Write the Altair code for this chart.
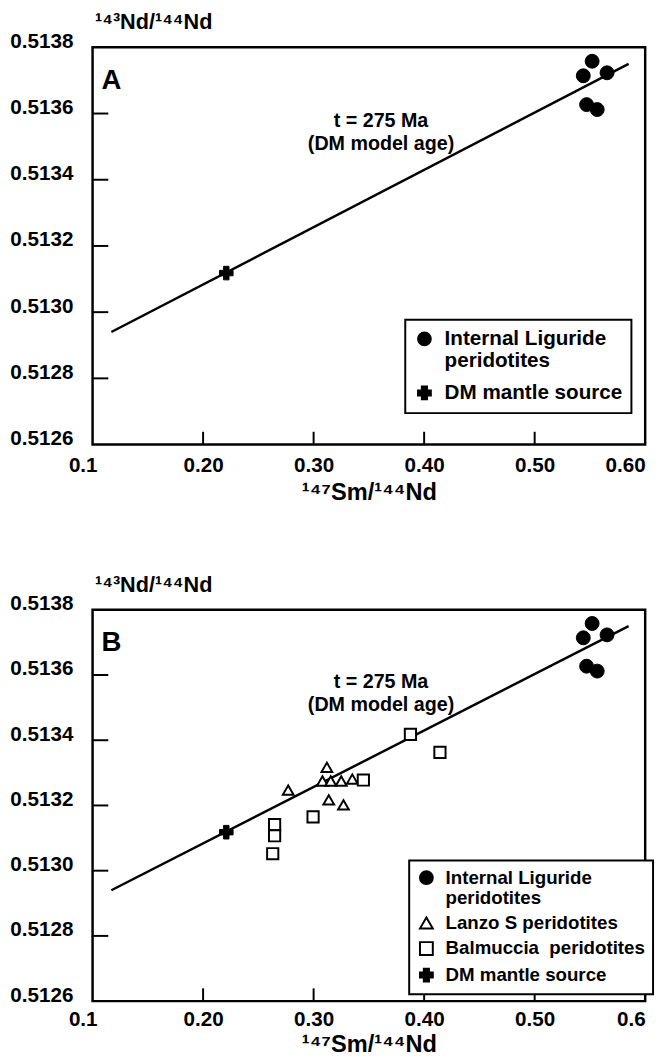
import altair as alt
import pandas as pd

FONT = "Liberation Sans"

# ---------------- data ----------------
lig_x = [0.552, 0.544, 0.5655, 0.547, 0.5566]
lig_y = [0.513758, 0.513714, 0.513723, 0.513627, 0.513612]

dm_x = [0.221]
dm_y = [0.513118]

lanzo_x = [0.277, 0.312, 0.308, 0.3155, 0.325, 0.335, 0.3137, 0.327]
lanzo_y = [0.513247, 0.513317, 0.513275, 0.513275, 0.513275, 0.513281, 0.513217, 0.513202]

balm_x = [0.345, 0.2995, 0.2647, 0.2647, 0.263, 0.3876, 0.4143]
balm_y = [0.513278, 0.513165, 0.513141, 0.513107, 0.513052, 0.513418, 0.513363]

iso_x = [0.117, 0.585]
iso_y = [0.51294, 0.51375]

note_x = [0.361, 0.361]
note_y = [0.513578, 0.513508]
note_text = ["t = 275 Ma", "(DM model age)"]

x_label_values = [0.1, 0.2, 0.3, 0.4, 0.5, 0.6]
y_label_values = [0.5126, 0.5128, 0.5130, 0.5132, 0.5134, 0.5136, 0.5138]
x_tick_values = [0.2, 0.3, 0.4, 0.5]
y_tick_values = [0.5128, 0.5130, 0.5132, 0.5134, 0.5136]

G_LIG = "Internal Liguride peridotites"
G_LANZO = "Lanzo S peridotites"
G_BALM = "Balmuccia\u00a0 peridotites"
G_DM = "DM mantle source"

groups_A = [G_LIG, G_DM]
groups_B = [G_LIG, G_LANZO, G_BALM, G_DM]

shape_of = {G_LIG: "circle", G_LANZO: "triangle-up", G_BALM: "square", G_DM: "cross"}
fill_of = {G_LIG: "black", G_LANZO: "white", G_BALM: "white", G_DM: "black"}
size_of = {G_LIG: 200, G_LANZO: 120, G_BALM: 130, G_DM: 190}
data_of = {
    G_LIG: (lig_x, lig_y),
    G_LANZO: (lanzo_x, lanzo_y),
    G_BALM: (balm_x, balm_y),
    G_DM: (dm_x, dm_y),
}

W = 562


def panel(letter, groups, last_label, legend_x, legend_y, leg_font, leg_row_pad, leg_pad,
          height, x_label_pad, x_title_pad):
    xscale = alt.Scale(domain=[0.1, 0.6], nice=False, zero=False)
    yscale = alt.Scale(domain=[0.5126, 0.5138], nice=False, zero=False)
    xaxis = alt.Axis(
        values=x_label_values,
        labelExpr="datum.value < 0.15 ? '0.1' : (datum.value > 0.55 ? '%s' : format(datum.value, '.2f'))" % last_label,
        labelFlush=False,
        labelOverlap=False,
        labelFontSize=21,
        labelPadding=x_label_pad,
        labelAlign={"condition": {"test": "datum.value > 0.55", "value": "right"}, "value": "center"},
        labelOffset={"condition": {"test": "datum.value < 0.15", "value": -10}, "value": 0},
        title="¹⁴⁷Sm/¹⁴⁴Nd",
        titleFontSize=24,
        titlePadding=x_title_pad,
    )
    yaxis = alt.Axis(
        values=y_label_values,
        format=".4f",
        labelFontSize=21,
        labelPadding=20,
        labelOffset=-6,
        labelOverlap=False,
        labelFlush=False,
        title="¹⁴³Nd/¹⁴⁴Nd",
        titleAngle=0,
        titleAlign="left",
        titleBaseline="bottom",
        titleX=2,
        titleY=-14,
        titleFontSize=22,
    )
    X = alt.X("x:Q", scale=xscale, axis=xaxis)
    Y = alt.Y("y:Q", scale=yscale, axis=yaxis)

    leg = alt.Legend(
        title=None,
        orient="none",
        legendX=legend_x,
        legendY=legend_y,
        direction="vertical",
        labelFontSize=leg_font,
        rowPadding=leg_row_pad,
        padding=leg_pad,
        symbolStrokeWidth=2,
        labelExpr="datum.label == '%s' ? ['Internal Liguride', 'peridotites'] : datum.label" % G_LIG,
    )
    shape_enc = alt.Shape("group:N", scale=alt.Scale(domain=groups, range=[shape_of[g] for g in groups]), legend=leg)
    fill_enc = alt.Fill("group:N", scale=alt.Scale(domain=groups, range=[fill_of[g] for g in groups]), legend=leg)
    stroke_enc = alt.Stroke("group:N", scale=alt.Scale(domain=groups, range=["black"] * len(groups)), legend=leg)

    line = alt.Chart(pd.DataFrame({"x": iso_x, "y": iso_y})).mark_line(
        color="black", strokeWidth=2.5
    ).encode(x=X, y=Y)

    xticks = alt.Chart(pd.DataFrame({"x": x_tick_values})).mark_rule(
        color="black", strokeWidth=2
    ).encode(x=X, y=alt.value(height), y2=alt.value(height - 13))
    yticks = alt.Chart(pd.DataFrame({"y": y_tick_values})).mark_rule(
        color="black", strokeWidth=2
    ).encode(y=Y, x=alt.value(0), x2=alt.value(16))

    notes = alt.Chart(pd.DataFrame({"x": note_x, "y": note_y, "t": note_text})).mark_text(
        font=FONT, fontSize=20, fontWeight="bold", color="black"
    ).encode(x=X, y=Y, text="t:N")

    lett = alt.Chart(pd.DataFrame({"t": [letter]})).mark_text(
        font=FONT, fontSize=28, fontWeight="bold", color="black", align="left"
    ).encode(x=alt.value(9), y=alt.value(34), text="t:N")

    layers = [line, xticks, yticks, notes, lett]
    for g in groups:
        gx, gy = data_of[g]
        df = pd.DataFrame({"x": gx, "y": gy, "group": [g] * len(gx)})
        layers.append(
            alt.Chart(df).mark_point(
                filled=True, strokeWidth=2 if g in (G_LANZO, G_BALM) else 1,
                opacity=1, size=size_of[g]
            ).encode(x=X, y=Y, shape=shape_enc, fill=fill_enc, stroke=stroke_enc)
        )
    return alt.layer(*layers).properties(width=W, height=height)


A = panel("A", groups_A, "0.60", 318, 277, 21, 10, 9, 404, 10, 6)
B = panel("B", groups_B, "0.6", 322, 255, 19, 4, 8, 398, 8, 3)

chart = alt.vconcat(A, B, spacing=66).properties(
    padding={"top": -8, "left": 0, "right": 0, "bottom": 0}
).resolve_scale(
    shape="independent", fill="independent", stroke="independent"
).resolve_legend(
    shape="independent", fill="independent", stroke="independent"
).configure_view(
    stroke="black", strokeWidth=2.5
).configure_axis(
    domain=False, ticks=False, grid=False,
    labelFont=FONT, labelFontWeight="bold", labelColor="black",
    titleFont=FONT, titleFontWeight="bold", titleColor="black",
).configure_legend(
    strokeColor="black", strokeWidth=2, fillColor="white",
    labelFont=FONT, labelFontWeight="bold", labelColor="black",
    symbolSize=170, labelOffset=10, labelLimit=300,
)

chart.save("out.html", embed_options={"renderer": "svg", "actions": False})
